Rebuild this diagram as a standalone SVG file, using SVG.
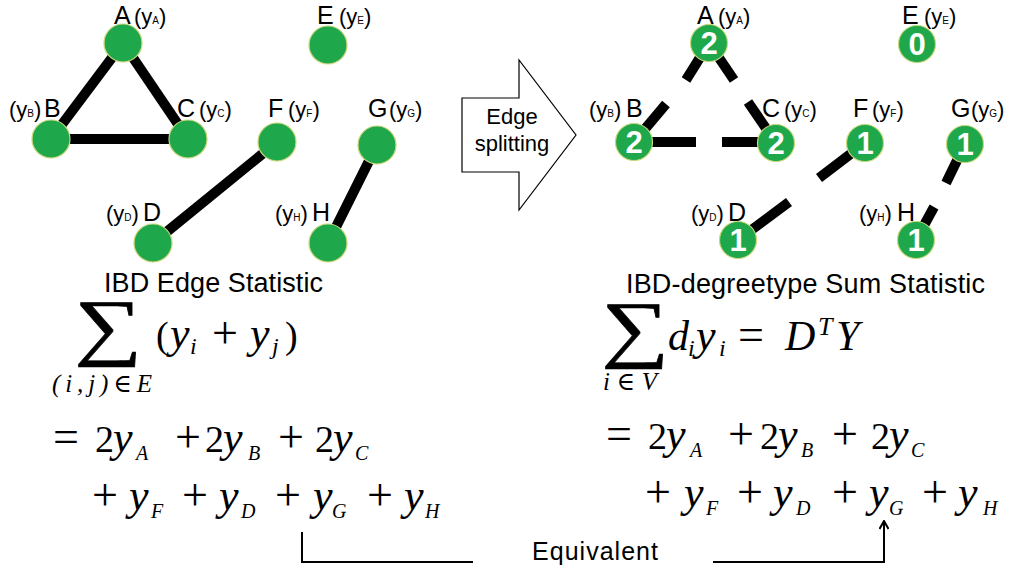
<svg xmlns="http://www.w3.org/2000/svg" width="1009" height="571" viewBox="0 0 1009 571">
<style>
.nd{fill:#1ea84b;stroke:#c9d77a;stroke-width:1.2}
.ed{stroke:#000;stroke-width:10;stroke-linecap:butt;fill:none}
.lt{font-family:"Liberation Sans",Arial,sans-serif;font-size:25px;fill:#000}
.pr{font-family:"Liberation Sans",Arial,sans-serif;font-size:22px;fill:#000}
.sb{font-size:10px}
.num{font-family:"Liberation Sans",Arial,sans-serif;font-size:31px;font-weight:bold;fill:#fff;text-anchor:middle}
.ttl{font-family:"Liberation Sans",Arial,sans-serif;font-size:27px;fill:#000}
.m{font-family:"Liberation Serif","DejaVu Serif",serif;font-size:38px;fill:#000}
.mi{font-style:italic}
.yy{font-style:italic;font-size:44px}
.op{font-size:46px;font-style:normal}
.ms{font-size:20px;font-style:italic}
.mss{font-size:24px;font-style:italic}
.sig{font-family:"Liberation Serif","DejaVu Serif",serif;font-size:66px;fill:#000;stroke:#000;stroke-width:0.6}
</style>
<defs>
<marker id="ah" viewBox="0 0 10 10" refX="9" refY="5" markerWidth="10" markerHeight="10" markerUnits="userSpaceOnUse" orient="auto">
<path d="M1,0.5 L9,5 L1,9.5" fill="none" stroke="#000" stroke-width="2"/>
</marker>
</defs>
<rect width="1009" height="571" fill="#fff"/>

<g id="connectors">
<line class="ed" x1="123" y1="43" x2="51" y2="139"/>
<line class="ed" x1="123" y1="43" x2="188" y2="139"/>
<line class="ed" x1="51" y1="139" x2="188" y2="139"/>
<line class="ed" x1="277" y1="142" x2="153" y2="243"/>
<line class="ed" x1="377" y1="145" x2="328" y2="243"/>
<line class="ed" x1="709" y1="43" x2="686" y2="80"/>
<line class="ed" x1="666" y1="104" x2="634" y2="142"/>
<line class="ed" x1="709" y1="43" x2="734" y2="80"/>
<line class="ed" x1="748" y1="102" x2="776" y2="143"/>
<line class="ed" x1="634" y1="142" x2="696" y2="142"/>
<line class="ed" x1="722" y1="142" x2="776" y2="142"/>
<line class="ed" x1="865" y1="143" x2="819" y2="178"/>
<line class="ed" x1="789" y1="202" x2="738" y2="240"/>
<line class="ed" x1="965" y1="144" x2="946" y2="183"/>
<line class="ed" x1="934" y1="207" x2="916" y2="240"/>
<path d="M302,532 V562 H473" fill="none" stroke="#000" stroke-width="2"/>
<path d="M713,562 H884 V521" fill="none" stroke="#000" stroke-width="2" marker-end="url(#ah)"/>
</g>

<g id="L-A"><circle class="nd" cx="123" cy="43" r="19"/><text class="lt" x="114" y="24">A</text><text class="pr" x="134" y="24">(y<tspan class="sb">A</tspan>)</text></g>
<g id="L-E"><circle class="nd" cx="328" cy="45" r="19"/><text class="lt" x="317" y="24">E</text><text class="pr" x="339" y="24">(y<tspan class="sb">E</tspan>)</text></g>
<g id="L-B"><circle class="nd" cx="51" cy="139" r="19"/><text class="pr" x="9" y="117">(y<tspan class="sb">B</tspan>)</text><text class="lt" x="44" y="117">B</text></g>
<g id="L-C"><circle class="nd" cx="188" cy="139" r="19"/><text class="lt" x="177" y="117">C</text><text class="pr" x="199" y="117">(y<tspan class="sb">C</tspan>)</text></g>
<g id="L-F"><circle class="nd" cx="277" cy="142" r="19"/><text class="lt" x="268" y="117">F</text><text class="pr" x="288" y="117">(y<tspan class="sb">F</tspan>)</text></g>
<g id="L-G"><circle class="nd" cx="377" cy="145" r="19"/><text class="lt" x="368" y="117">G</text><text class="pr" x="389" y="117">(y<tspan class="sb">G</tspan>)</text></g>
<g id="L-D"><circle class="nd" cx="153" cy="243" r="19"/><text class="pr" x="106" y="221">(y<tspan class="sb">D</tspan>)</text><text class="lt" x="143" y="221">D</text></g>
<g id="L-H"><circle class="nd" cx="328" cy="243" r="19"/><text class="pr" x="275" y="221">(y<tspan class="sb">H</tspan>)</text><text class="lt" x="312" y="221">H</text></g>

<g id="R-A"><circle class="nd" cx="709" cy="43" r="18.5"/><text class="num" x="709" y="54">2</text><text class="lt" x="697" y="24">A</text><text class="pr" x="718" y="24">(y<tspan class="sb">A</tspan>)</text></g>
<g id="R-E"><circle class="nd" cx="917" cy="44" r="18.5"/><text class="num" x="917" y="55">0</text><text class="lt" x="902" y="24">E</text><text class="pr" x="924" y="24">(y<tspan class="sb">E</tspan>)</text></g>
<g id="R-B"><circle class="nd" cx="634" cy="142" r="18.5"/><text class="num" x="634" y="153">2</text><text class="pr" x="589" y="117">(y<tspan class="sb">B</tspan>)</text><text class="lt" x="626" y="117">B</text></g>
<g id="R-C"><circle class="nd" cx="776" cy="143" r="18.5"/><text class="num" x="776" y="154">2</text><text class="lt" x="762" y="117">C</text><text class="pr" x="784" y="117">(y<tspan class="sb">C</tspan>)</text></g>
<g id="R-F"><circle class="nd" cx="865" cy="143" r="18.5"/><text class="num" x="865" y="154">1</text><text class="lt" x="853" y="117">F</text><text class="pr" x="872" y="117">(y<tspan class="sb">F</tspan>)</text></g>
<g id="R-G"><circle class="nd" cx="965" cy="144" r="18.5"/><text class="num" x="965" y="155">1</text><text class="lt" x="951" y="117">G</text><text class="pr" x="971" y="117">(y<tspan class="sb">G</tspan>)</text></g>
<g id="R-D"><circle class="nd" cx="738" cy="240" r="18.5"/><text class="num" x="738" y="251">1</text><text class="pr" x="691" y="221">(y<tspan class="sb">D</tspan>)</text><text class="lt" x="728" y="221">D</text></g>
<g id="R-H"><circle class="nd" cx="916" cy="240" r="18.5"/><text class="num" x="916" y="251">1</text><text class="pr" x="859" y="221">(y<tspan class="sb">H</tspan>)</text><text class="lt" x="897" y="221">H</text></g>

<g id="split-arrow">
<polygon points="462,98 519,98 519,60 576,135 519,210 519,172 462,172" fill="#fff" stroke="#000" stroke-width="1.2"/>
<text class="lt" x="512" y="124" text-anchor="middle" style="font-size:22px">Edge</text>
<text class="lt" x="512" y="151" text-anchor="middle" style="font-size:22px">splitting</text>
</g>

<g id="titles">
<text class="ttl" x="104" y="292" textLength="219">IBD Edge Statistic</text>
<text class="ttl" x="626" y="293" textLength="359">IBD-degreetype Sum Statistic</text>
<text class="ttl" x="532" y="560" textLength="126" style="font-size:25px">Equivalent</text>
</g>

<g id="formula-left">
<text class="sig" transform="translate(76,361) scale(1.44,1.12)" x="-1" y="-9">∑</text>
<text class="m mss" x="52" y="392" textLength="100" style="font-size:25px">(i,j)∈E</text>
<text class="m" y="348"><tspan x="156">(</tspan><tspan class="yy" x="170">y</tspan><tspan class="mss" x="190" dy="6">i</tspan><tspan class="op" x="212" dy="-6">+</tspan><tspan class="yy" x="250">y</tspan><tspan class="mss" x="272" dy="6">j</tspan><tspan x="285" dy="-6">)</tspan></text>
<text class="m" y="452"><tspan class="op" x="53">=</tspan><tspan x="95">2</tspan><tspan class="yy" x="113">y</tspan><tspan class="ms" x="136" dy="8">A</tspan><tspan class="op" x="175" dy="-8">+</tspan><tspan x="205">2</tspan><tspan class="yy" x="223">y</tspan><tspan class="ms" x="248" dy="8">B</tspan><tspan class="op" x="278" dy="-8">+</tspan><tspan x="315">2</tspan><tspan class="yy" x="333">y</tspan><tspan class="ms" x="355" dy="8">C</tspan></text>
<text class="m" y="510"><tspan class="op" x="92">+</tspan><tspan class="yy" x="129">y</tspan><tspan class="ms" x="151" dy="8">F</tspan><tspan class="op" x="182" dy="-8">+</tspan><tspan class="yy" x="219">y</tspan><tspan class="ms" x="241" dy="8">D</tspan><tspan class="op" x="275" dy="-8">+</tspan><tspan class="yy" x="313">y</tspan><tspan class="ms" x="332" dy="8">G</tspan><tspan class="op" x="367" dy="-8">+</tspan><tspan class="yy" x="404">y</tspan><tspan class="ms" x="425" dy="8">H</tspan></text>
</g>

<g id="formula-right">
<text class="sig" transform="translate(603,363) scale(1.44,1.12)" x="-1" y="-9">∑</text>
<text class="m mss" x="603" y="390" textLength="54" style="font-size:25px">i∈V</text>
<text class="m" y="350"><tspan class="mi" x="668" style="font-size:42px">d</tspan><tspan class="mss" x="688" dy="6">i</tspan><tspan class="yy" x="696" dy="-6">y</tspan><tspan class="mss" x="719" dy="6">i</tspan><tspan class="op" x="738" dy="-6">=</tspan><tspan class="mi" x="785" style="font-size:42px">D</tspan><tspan class="mss" x="818" dy="-15" style="font-size:26px">T</tspan><tspan class="mi" x="836" dy="15" style="font-size:42px">Y</tspan></text>
<text class="m" y="449"><tspan class="op" x="606">=</tspan><tspan x="648">2</tspan><tspan class="yy" x="666">y</tspan><tspan class="ms" x="690" dy="8">A</tspan><tspan class="op" x="728" dy="-8">+</tspan><tspan x="760">2</tspan><tspan class="yy" x="778">y</tspan><tspan class="ms" x="801" dy="8">B</tspan><tspan class="op" x="832" dy="-8">+</tspan><tspan x="871">2</tspan><tspan class="yy" x="889">y</tspan><tspan class="ms" x="911" dy="8">C</tspan></text>
<text class="m" y="507"><tspan class="op" x="645">+</tspan><tspan class="yy" x="684">y</tspan><tspan class="ms" x="706" dy="8">F</tspan><tspan class="op" x="737" dy="-8">+</tspan><tspan class="yy" x="773">y</tspan><tspan class="ms" x="796" dy="8">D</tspan><tspan class="op" x="832" dy="-8">+</tspan><tspan class="yy" x="869">y</tspan><tspan class="ms" x="889" dy="8">G</tspan><tspan class="op" x="922" dy="-8">+</tspan><tspan class="yy" x="958">y</tspan><tspan class="ms" x="983" dy="8">H</tspan></text>
</g>
</svg>
